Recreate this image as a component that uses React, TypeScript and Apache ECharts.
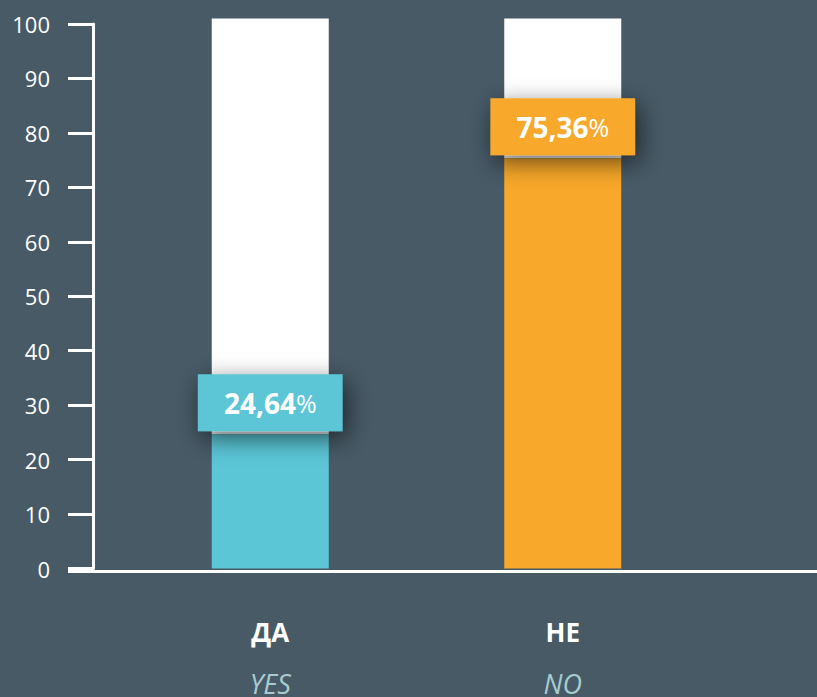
import React, { useEffect, useRef } from "react";
import * as echarts from "echarts";

const categories = ["ДА", "НЕ"];
const subLabels = ["YES", "NO"];
const values = [24.64, 75.36];
const barColors = ["#5bc6d6", "#f8a82a"];
const barTop = 101;
const remainder = values.map((v) => +(barTop - v).toFixed(2));
const yTicks = { min: 0, max: 100, interval: 10 };

const BG = "#475a66";
const FONT = "'Open Sans', sans-serif";

export default function App() {
  const ref = useRef<HTMLDivElement>(null);
  useEffect(() => {
    const chart = echarts.init(ref.current!, null, { renderer: "svg" });
    chart.setOption({
      animation: false,
      backgroundColor: BG,
      grid: { left: 124, right: 108, top: 24, bottom: 126 },
      xAxis: {
        type: "category",
        data: categories,
        axisLine: { show: false },
        axisTick: { show: false },
        axisLabel: {
          margin: 37,
          formatter: (v: string, i: number) => `{a|${v}}\n{b|${subLabels[i]}}`,
          rich: {
            a: { fontFamily: FONT, fontSize: 26, fontWeight: "bold", color: "#ffffff", lineHeight: 52 },
            b: { fontFamily: FONT, fontSize: 27, fontStyle: "italic", color: "#a7ccd0", lineHeight: 52 },
          },
        },
      },
      yAxis: {
        type: "value",
        min: yTicks.min,
        max: yTicks.max,
        interval: yTicks.interval,
        offset: 31,
        splitLine: { show: false },
        axisLine: { show: true, lineStyle: { color: "#ffffff", width: 3 } },
        axisTick: { show: true, length: 25, lineStyle: { color: "#ffffff", width: 3 } },
        axisLabel: { margin: 43, color: "#ffffff", fontFamily: FONT, fontSize: 22 },
      },
      graphic: [
        {
          type: "line",
          shape: { x1: 68, y1: 571.5, x2: 817, y2: 571.5 },
          style: { stroke: "#ffffff", lineWidth: 3 },
          z: 10,
        },
      ],
      series: [
        {
          type: "bar",
          stack: "s",
          barWidth: 117,
          clip: false,
          z: 3,
          data: values.map((v, i) => ({
            value: v,
            itemStyle: { color: barColors[i] },
            label: { backgroundColor: barColors[i] },
          })),
          label: {
            show: true,
            position: "top",
            distance: 3,
            padding: [12, 26, 12, 26],
            shadowBlur: 24,
            shadowColor: "rgba(0,0,0,0.6)",
            shadowOffsetX: 4,
            shadowOffsetY: 7,
            formatter: (p: any) => `{n|${p.value.toFixed(2).replace(".", ",")}}{p|%}`,
            rich: {
              n: { fontFamily: FONT, fontSize: 28, fontWeight: "bold", color: "#ffffff", lineHeight: 33 },
              p: { fontFamily: FONT, fontSize: 25, color: "#ffffff", lineHeight: 33 },
            },
          },
        },
        {
          type: "bar",
          stack: "s",
          barWidth: 117,
          clip: false,
          z: 2,
          itemStyle: { color: "#ffffff" },
          data: remainder,
        },
      ],
    });
    return () => chart.dispose();
  }, []);
  return <div ref={ref} style={{ width: 817, height: 697, position: "fixed", left: 0, top: 0 }} />;
}
